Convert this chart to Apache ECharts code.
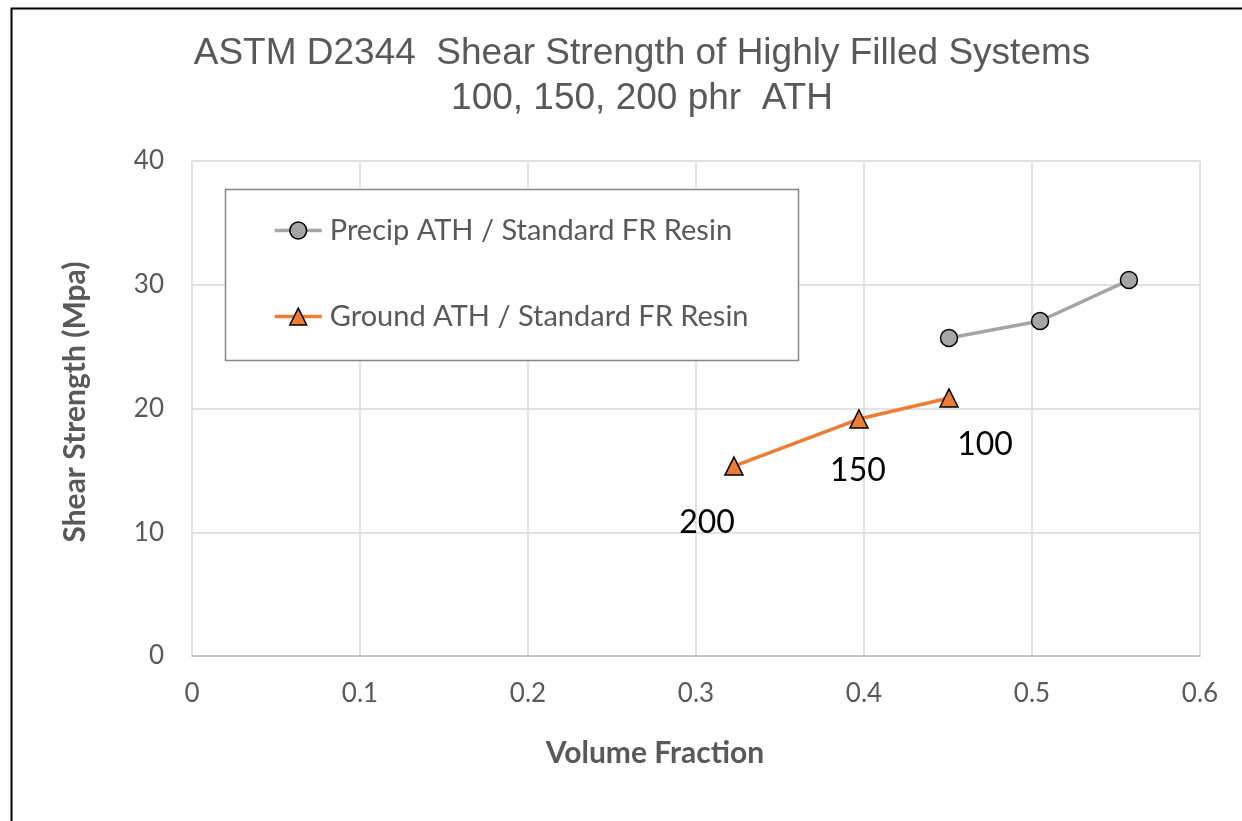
<!DOCTYPE html>
<html><head><meta charset="utf-8">
<script src="https://cdn.jsdelivr.net/npm/echarts@6/dist/echarts.min.js"></script>
<style>html,body{margin:0;padding:0;background:#fff}#c{width:1242px;height:821px}</style>
</head><body><div id="c"></div>
<script>
const titleLines = ['ASTM D2344  Shear Strength of Highly Filled Systems', '100, 150, 200 phr  ATH'];
const xTicks = [0, 0.1, 0.2, 0.3, 0.4, 0.5, 0.6];
const yTicks = [0, 10, 20, 30, 40];
const xAxisName = 'Volume Fraction';
const yAxisName = 'Shear Strength (Mpa)';
const precipName = 'Precip ATH / Standard FR Resin';
const precipX = [0.4506, 0.5048, 0.5577];
const precipY = [25.7, 27.07, 30.38];
const groundName = 'Ground ATH / Standard FR Resin';
const groundX = [0.3226, 0.397, 0.4506];
const groundY = [15.35, 19.15, 20.85];
const groundLabels = ['200', '150', '100'];

const chart = echarts.init(document.getElementById('c'), null, {renderer: 'canvas'});
const labelOffsets = [[-27, 57], [-1, 52], [36, 47]];
const tickFont = 'Lato, "Open Sans", sans-serif';
chart.setOption({
  animation: false,
  backgroundColor: '#fff',
  title: {
    text: titleLines.join('\n'),
    left: 637, top: 26, textAlign: 'center',
    textStyle: {fontFamily: '"Liberation Sans", Arial, sans-serif', fontWeight: 'normal', fontSize: 37, color: '#595959', lineHeight: 45}
  },
  graphic: [
    {type: 'polyline', shape: {points: [[11.5, 830], [11.5, 8.5], [1250, 8.5]]}, style: {stroke: '#000', lineWidth: 2, fill: null}, z: 100},
    {type: 'rect', shape: {x: 225.5, y: 189.5, width: 573, height: 171}, style: {fill: '#fff', stroke: '#888', lineWidth: 1.5}, z: 50},
    {type: 'text', x: 655, y: 753, style: {text: xAxisName, font: 'bold 30px Lato, sans-serif', fill: '#595959', align: 'center', verticalAlign: 'middle'}, z: 60},
    {type: 'text', x: 75, y: 402, rotation: Math.PI / 2, style: {text: yAxisName, font: 'bold 30px Lato, sans-serif', fill: '#595959', align: 'center', verticalAlign: 'middle'}, z: 60}
  ],
  legend: {
    orient: 'vertical', left: 268, top: 211, itemGap: 57, itemWidth: 47, itemHeight: 21, z: 60,
    textStyle: {fontFamily: tickFont, fontSize: 29, color: '#595959', padding: [0, 0, 0, 3]},
    data: [
      {name: precipName, itemStyle: {borderWidth: 1.5}, lineStyle: {width: 3.5}},
      {name: groundName, itemStyle: {borderWidth: 1.5}, lineStyle: {width: 3.5}}
    ]
  },
  grid: {left: 192, right: 42, top: 161, bottom: 165, containLabel: false},
  xAxis: {
    type: 'value', min: xTicks[0], max: xTicks[xTicks.length - 1], interval: 0.1,
    axisLine: {show: true, lineStyle: {color: '#bfbfbf', width: 1.5}},
    axisTick: {show: false},
    axisLabel: {fontFamily: tickFont, fontSize: 26, color: '#595959', margin: 25, formatter: v => String(+v.toFixed(1))},
    splitLine: {show: true, lineStyle: {color: '#d9d9d9', width: 1.5}}
  },
  yAxis: {
    type: 'value', min: yTicks[0], max: yTicks[yTicks.length - 1], interval: 10,
    axisLine: {show: false},
    axisTick: {show: false},
    axisLabel: {fontFamily: tickFont, fontSize: 26, color: '#595959', margin: 28},
    splitLine: {show: true, lineStyle: {color: '#d9d9d9', width: 1.5}}
  },
  series: [
    {
      name: precipName, type: 'line',
      data: precipX.map((x, i) => [x, precipY[i]]),
      symbol: 'circle', symbolSize: 17,
      lineStyle: {color: '#a5a5a5', width: 3.5},
      itemStyle: {color: '#a5a5a5', borderColor: '#000', borderWidth: 1.5},
      z: 3
    },
    {
      name: groundName, type: 'line',
      data: groundX.map((x, i) => ({value: [x, groundY[i]], label: {show: true, formatter: groundLabels[i], offset: labelOffsets[i]}})),
      symbol: 'triangle', symbolSize: 18,
      lineStyle: {color: '#ed7d31', width: 3.5},
      itemStyle: {color: '#ed7d31', borderColor: '#000', borderWidth: 1.5},
      label: {position: 'inside', fontFamily: tickFont, fontSize: 32, color: '#000'},
      z: 4
    }
  ]
});
</script></body></html>
